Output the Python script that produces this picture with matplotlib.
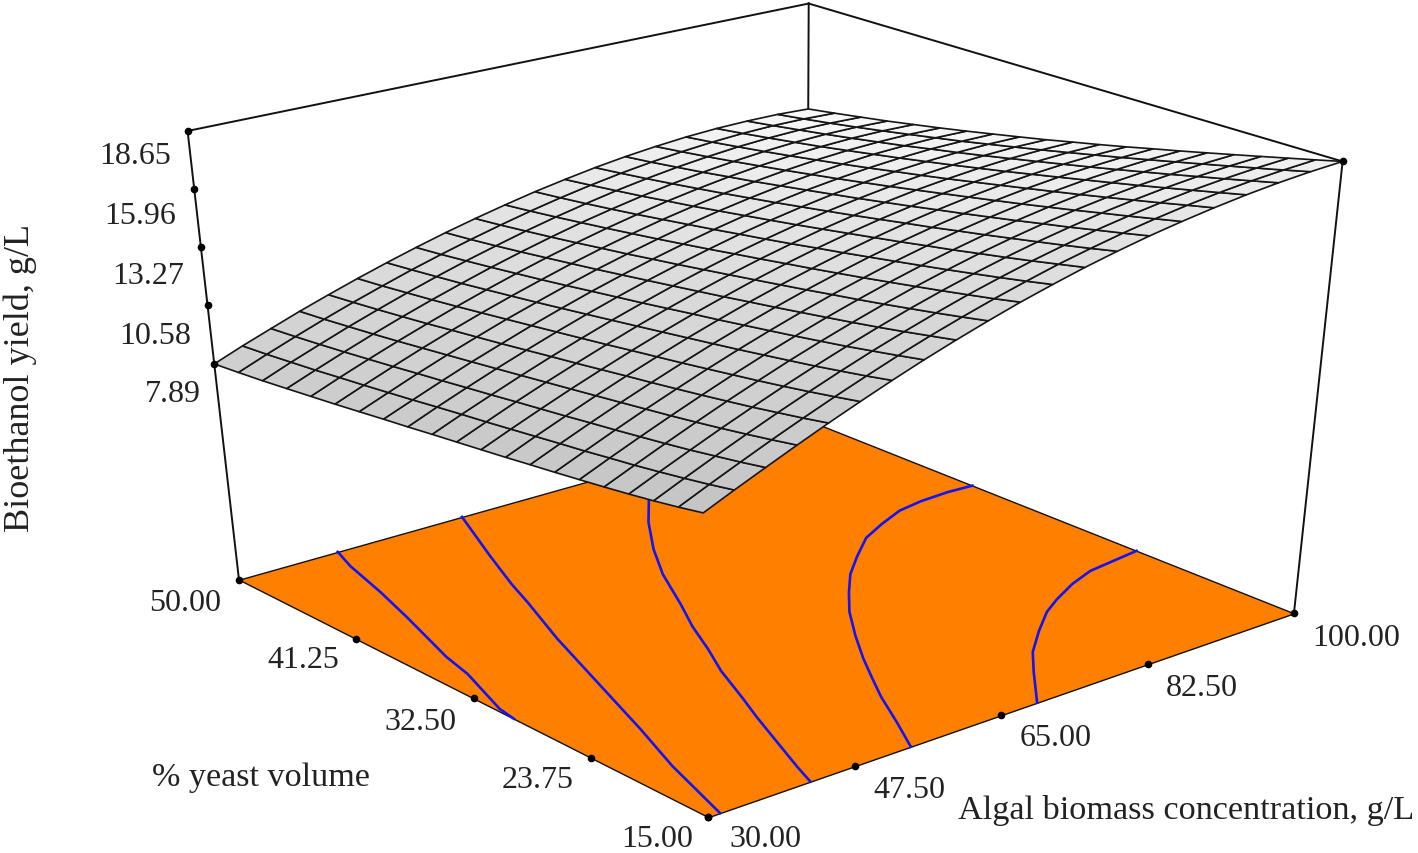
import numpy as np
import matplotlib
matplotlib.use('Agg')
import matplotlib.pyplot as plt

plt.rcParams['font.family'] = ['Liberation Serif', 'DejaVu Serif']

# ---- data ----
x_nodes = [30.0, 33.5, 37.0, 40.5, 44.0, 47.5, 51.0, 54.5, 58.0, 61.5, 65.0,
           68.5, 72.0, 75.5, 79.0, 82.5, 86.0, 89.5, 93.0, 96.5, 100.0]
y_nodes = [15.00, 16.75, 18.50, 20.25, 22.00, 23.75, 25.50, 27.25, 29.00, 30.75, 32.50,
           34.25, 36.00, 37.75, 39.50, 41.25, 43.00, 44.75, 46.50, 48.25, 50.00]
yield_surface = [
    [10.87, 11.45, 12.02, 12.59, 13.15, 13.69, 14.22, 14.73, 15.21, 15.67, 16.11, 16.51, 16.89, 17.23, 17.54, 17.81, 18.05, 18.26, 18.43, 18.56, 18.65],
    [10.66, 11.24, 11.81, 12.38, 12.93, 13.47, 13.99, 14.50, 14.98, 15.43, 15.86, 16.26, 16.64, 16.97, 17.28, 17.55, 17.79, 17.99, 18.15, 18.27, 18.36],
    [10.47, 11.05, 11.62, 12.18, 12.73, 13.26, 13.78, 14.28, 14.75, 15.20, 15.63, 16.02, 16.39, 16.72, 17.03, 17.29, 17.52, 17.72, 17.87, 17.99, 18.07],
    [10.30, 10.87, 11.43, 11.99, 12.53, 13.06, 13.57, 14.06, 14.53, 14.98, 15.40, 15.79, 16.15, 16.48, 16.77, 17.04, 17.26, 17.45, 17.60, 17.71, 17.78],
    [10.14, 10.70, 11.26, 11.81, 12.35, 12.87, 13.38, 13.86, 14.32, 14.76, 15.18, 15.56, 15.92, 16.24, 16.53, 16.78, 17.00, 17.18, 17.32, 17.43, 17.49],
    [9.99, 10.55, 11.10, 11.64, 12.17, 12.69, 13.19, 13.66, 14.12, 14.55, 14.96, 15.34, 15.68, 16.00, 16.28, 16.53, 16.74, 16.92, 17.05, 17.15, 17.20],
    [9.84, 10.39, 10.94, 11.48, 12.00, 12.51, 13.00, 13.47, 13.92, 14.35, 14.74, 15.12, 15.46, 15.77, 16.04, 16.28, 16.49, 16.66, 16.78, 16.87, 16.91],
    [9.70, 10.25, 10.79, 11.32, 11.83, 12.33, 12.82, 13.28, 13.72, 14.14, 14.53, 14.90, 15.23, 15.53, 15.80, 16.04, 16.24, 16.40, 16.51, 16.59, 16.63],
    [9.55, 10.10, 10.63, 11.16, 11.67, 12.16, 12.64, 13.09, 13.53, 13.94, 14.32, 14.68, 15.01, 15.31, 15.57, 15.80, 15.99, 16.14, 16.25, 16.32, 16.34],
    [9.41, 9.95, 10.48, 11.00, 11.50, 11.99, 12.46, 12.91, 13.33, 13.74, 14.12, 14.47, 14.79, 15.08, 15.33, 15.56, 15.74, 15.88, 15.99, 16.05, 16.06],
    [9.27, 9.80, 10.33, 10.84, 11.33, 11.81, 12.28, 12.72, 13.14, 13.54, 13.91, 14.25, 14.57, 14.85, 15.10, 15.32, 15.49, 15.63, 15.73, 15.78, 15.79],
    [9.13, 9.66, 10.17, 10.68, 11.17, 11.64, 12.10, 12.53, 12.95, 13.34, 13.71, 14.04, 14.35, 14.63, 14.87, 15.08, 15.25, 15.38, 15.47, 15.52, 15.51],
    [8.98, 9.51, 10.02, 10.52, 11.00, 11.47, 11.92, 12.35, 12.76, 13.14, 13.50, 13.84, 14.14, 14.41, 14.65, 14.85, 15.02, 15.14, 15.22, 15.26, 15.25],
    [8.84, 9.35, 9.86, 10.36, 10.83, 11.30, 11.74, 12.17, 12.57, 12.95, 13.30, 13.63, 13.93, 14.19, 14.43, 14.62, 14.78, 14.90, 14.98, 15.00, 14.99],
    [8.69, 9.20, 9.71, 10.20, 10.67, 11.13, 11.56, 11.98, 12.38, 12.75, 13.10, 13.43, 13.72, 13.98, 14.21, 14.40, 14.55, 14.67, 14.73, 14.76, 14.73],
    [8.54, 9.05, 9.55, 10.04, 10.51, 10.96, 11.39, 11.80, 12.20, 12.57, 12.91, 13.23, 13.51, 13.77, 13.99, 14.18, 14.33, 14.44, 14.50, 14.52, 14.48],
    [8.40, 8.91, 9.40, 9.88, 10.34, 10.79, 11.22, 11.63, 12.02, 12.38, 12.72, 13.03, 13.32, 13.57, 13.79, 13.97, 14.11, 14.21, 14.27, 14.28, 14.24],
    [8.26, 8.76, 9.25, 9.73, 10.19, 10.63, 11.05, 11.46, 11.84, 12.20, 12.54, 12.84, 13.12, 13.37, 13.58, 13.76, 13.90, 14.00, 14.05, 14.05, 14.00],
    [8.12, 8.63, 9.11, 9.59, 10.04, 10.48, 10.90, 11.30, 11.67, 12.03, 12.36, 12.66, 12.94, 13.18, 13.39, 13.56, 13.70, 13.79, 13.84, 13.83, 13.78],
    [8.00, 8.50, 8.98, 9.45, 9.90, 10.33, 10.75, 11.14, 11.51, 11.86, 12.19, 12.49, 12.76, 13.00, 13.20, 13.37, 13.50, 13.59, 13.63, 13.62, 13.56],
    [7.89, 8.39, 8.86, 9.33, 9.77, 10.20, 10.61, 11.00, 11.37, 11.71, 12.03, 12.33, 12.59, 12.83, 13.03, 13.19, 13.32, 13.40, 13.43, 13.42, 13.35],
]
contour1_x = [42.3, 41.0, 39.2, 37.3, 34.2, 33.2, 30.4, 30.0]
contour1_y = [50.0, 48.3, 45.0, 41.9, 37.1, 34.9, 30.8, 29.5]
contour2_x = [57.7, 53.4, 50.5, 48.8, 45.3, 37.8, 34.7, 31.4]
contour2_y = [50.0, 45.4, 42.1, 39.9, 35.6, 24.9, 20.6, 15.0]
contour3_x = [80.7, 74.4, 70.8, 66.7, 63.3, 59.8, 57.1, 54.7, 52.3, 49.6, 47.9, 43.4, 42.2]
contour3_y = [50.0, 46.3, 44.2, 41.4, 38.7, 35.3, 32.8, 30.2, 27.8, 24.5, 22.5, 16.7, 15.0]
contour4_x = [100.0, 97.2, 93.8, 90.7, 87.2, 83.8, 80.0, 76.7, 73.7, 70.6, 67.2, 64.2, 61.7, 59.6, 56.9, 54.2]
contour4_y = [38.2, 38.3, 38.2, 37.9, 37.1, 36.2, 34.6, 33.1, 31.4, 29.5, 27.0, 24.6, 22.4, 20.5, 17.7, 15.0]
contour5_x = [100.0, 97.4, 93.6, 90.3, 86.8, 84.1, 80.5, 76.8, 73.8, 69.3]
contour5_y = [26.4, 26.2, 25.9, 25.2, 24.2, 23.3, 21.7, 19.9, 18.0, 15.0]

x_ticks = [30.00, 47.50, 65.00, 82.50, 100.00]
y_ticks = [15.00, 23.75, 32.50, 41.25, 50.00]
z_ticks = [7.89, 10.58, 13.27, 15.96, 18.65]
x_title = 'Algal biomass concentration, g/L'
y_title = '% yeast volume'
z_title = 'Bioethanol yield, g/L'

# ---- view of the box ----
W, H = 1418, 854
Z_FLOOR = -1.95
x0, x1, y0, y1, z1 = x_ticks[0], x_ticks[-1], y_ticks[0], y_ticks[-1], z_ticks[-1]
view_world = np.array([[x0, y1, Z_FLOOR], [x0, y0, Z_FLOOR], [x1, y0, Z_FLOOR], [x1, y1, Z_FLOOR],
                       [x0, y1, z1], [x1, y1, z1], [x1, y0, z1]], float)
view_image = np.array([[238, 579], [709, 819], [1293, 614], [808, 422],
                       [188, 133], [808, 4], [1343, 162]], float)
lo = np.array([x0, y0, Z_FLOOR])
hi = np.array([x1, y1, z1])
T = np.diag(list(1 / (hi - lo)) + [1.0])
T[:3, 3] = -lo / (hi - lo)
rows = []
for w, (u, v) in zip(view_world, view_image):
    q = T @ np.append(w, 1.0)
    u, v = u / 1000, v / 1000
    rows.append(list(q) + [0, 0, 0, 0] + list(-u * q))
    rows.append([0, 0, 0, 0] + list(q) + list(-v * q))
P = np.linalg.svd(np.array(rows))[2][-1].reshape(3, 4)
P = np.diag([1000.0, 1000.0, 1.0]) @ P
C = np.linalg.svd(P)[2][-1]


# The source program spaces ticks evenly on screen along each box edge,
# so each axis is put through a scale that undoes the perspective foreshortening.
def even_scale(v, a, b, coef):
    f = (np.asarray(v, float) - a) / (b - a)
    return a + (b - a) * f / (1 + coef - coef * f)


def sx(v):
    return even_scale(v, x0, x1, P[2, 0] / P[2, 3])


def sy(v):
    return even_scale(v, y0, y1, P[2, 1] / P[2, 3])


def sz(v):
    return even_scale(v, Z_FLOOR, z1, P[2, 2] / P[2, 3])


fig = plt.figure(figsize=(W / 100, H / 100), dpi=100)
fig.patch.set_facecolor('white')
ax = fig.add_axes([0, (H - W) / 2 / H, 1, W / H], projection='3d')
ax.set_proj_type('ortho')
ax.set_axis_off()
ax.computed_zorder = False


def fixed_proj():
    inv = ax.transData.inverted()
    p0 = inv.transform((0, H))
    p1 = inv.transform((W, 0))
    a = (p1[0] - p0[0]) / W
    c = (p1[1] - p0[1]) / H
    M = np.vstack([a * P[0] + p0[0] * P[2],
                   c * P[1] + p0[1] * P[2],
                   C / np.linalg.norm(C),
                   P[2]])
    return M @ T


ax.get_proj = fixed_proj

# floor
fx, fy = np.meshgrid([x0, x1], [y0, y1])
ax.plot_surface(fx, fy, np.full_like(fx, Z_FLOOR), color='#FF8000', shade=False,
                edgecolor='#111111', linewidth=1.0, zorder=1)

# contours on the floor
for cx, cy in [(contour1_x, contour1_y), (contour2_x, contour2_y), (contour3_x, contour3_y),
               (contour4_x, contour4_y), (contour5_x, contour5_y)]:
    ax.plot(sx(cx), sy(cy), np.full(len(cx), Z_FLOOR), color='#1414F0', lw=1.9, zorder=2)

# box
box_kw = dict(color='#111111', lw=1.4, zorder=3)
ax.plot([x0, x0], [y1, y1], [Z_FLOOR, z1], **box_kw)
ax.plot([x1, x1], [y1, y1], [Z_FLOOR, z1], **box_kw)
ax.plot([x1, x1], [y0, y0], [Z_FLOOR, z1], **box_kw)
ax.plot([x0, x1], [y1, y1], [z1, z1], **box_kw)
ax.plot([x1, x1], [y1, y0], [z1, z1], **box_kw)

# surface
X, Y = np.meshgrid(sx(x_nodes), sy(y_nodes))
Z = sz(yield_surface)
s = (np.arange(20) + 0.5) / 20
S, R = np.meshgrid(s, s)
gray = (196 * (1 - S) * (1 - R) + 240 * S * (1 - R) + 206 * (1 - S) * R + 250 * S * R) / 255
face = np.dstack([gray, gray, gray, np.ones_like(gray)])
ax.plot_surface(X, Y, Z, rstride=1, cstride=1, facecolors=face, shade=False,
                edgecolor='#151515', linewidth=1.2, zorder=4)

# tick marks
mark = dict(ls='none', marker='o', ms=4.5, color='black', zorder=5)
ax.plot(sx(x_ticks), [y0] * 5, [Z_FLOOR] * 5, **mark)
ax.plot([x0] * 5, sy(y_ticks), [Z_FLOOR] * 5, **mark)
ax.plot([x0] * 5, [y1] * 5, sz(z_ticks), **mark)
ax.plot([x1], [y0], [z1], **mark)


def label(px, py, text, size=23, **kw):
    fig.text(px / W, 1 - py / H, text, ha='center', va='center', fontsize=size,
             color='#222222', **kw)


z_pos = [(173, 394), (155, 336), (148, 276), (140, 216), (135, 156)]
y_pos = [(657, 840), (538, 781), (420, 722), (303, 661), (185, 604)]
x_pos = [(765, 840), (909, 791), (1056, 739), (1202, 689), (1356, 638)]
for (px, py), v in zip(z_pos, z_ticks):
    label(px, py, f'{v:.2f}')
for (px, py), v in zip(y_pos, y_ticks):
    label(px, py, f'{v:.2f}')
for (px, py), v in zip(x_pos, x_ticks):
    label(px, py, f'{v:.2f}')
label(1186, 811, x_title, size=24.7)
label(261, 778, y_title, size=24.6)
label(20, 378, z_title, size=26, rotation=90)

fig.savefig('out.png', dpi=100)
